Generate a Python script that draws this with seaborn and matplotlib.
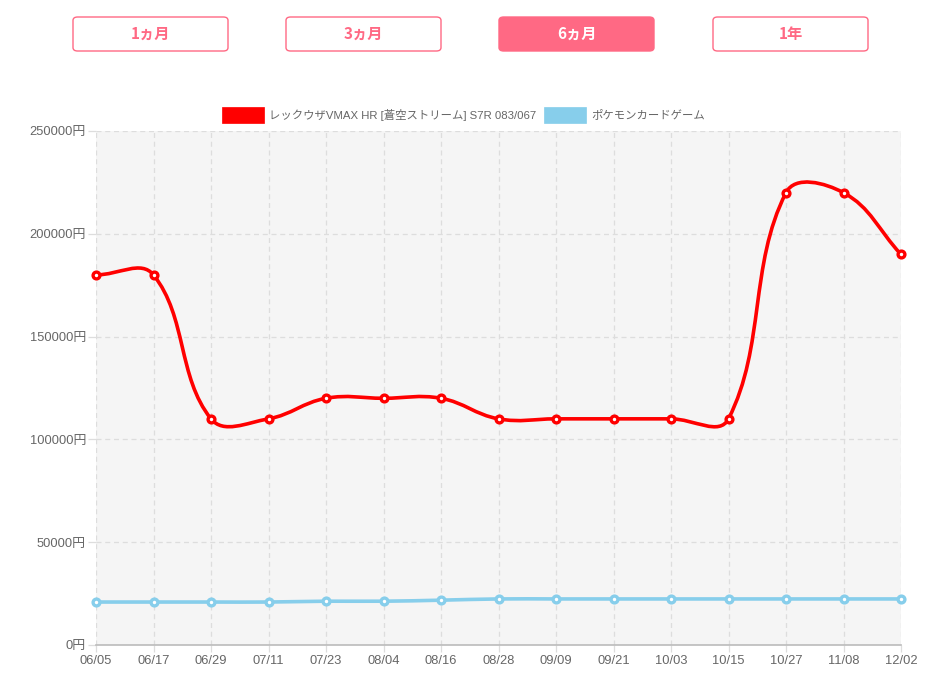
import numpy as np
import pandas as pd
import matplotlib
matplotlib.use("Agg")
import matplotlib.pyplot as plt
import seaborn as sns
from matplotlib.path import Path
from matplotlib.patches import PathPatch, FancyBboxPatch, Rectangle

# ---------------- data ----------------
dates = ["06/05", "06/17", "06/29", "07/11", "07/23", "08/04", "08/16", "08/28",
         "09/09", "09/21", "10/03", "10/15", "10/27", "11/08", "12/02"]
card_prices = [180000, 180000, 110000, 110000, 120000, 120000, 120000, 110000,
               110000, 110000, 110000, 110000, 220000, 220000, 190000]
game_prices = [20900, 20900, 20900, 20900, 21300, 21300, 21800, 22400,
               22400, 22400, 22400, 22400, 22400, 22400, 22400]
series_labels = ["レックウザVMAX HR [蒼空ストリーム] S7R 083/067", "ポケモンカードゲーム"]
series_colors = ["#ff0000", "#87ceeb"]
y_ticks = [0, 50000, 100000, 150000, 200000, 250000]
y_tick_labels = [f"{v}円" for v in y_ticks]
buttons = ["1ヵ月", "3ヵ月", "6ヵ月", "1年"]
active_button = "6ヵ月"

# ---------------- style ----------------
sns.set_theme(style="white")
FONT = ["Liberation Sans", "Noto Sans CJK JP", "DejaVu Sans"]
plt.rcParams["font.family"] = FONT
TXT = "#666666"
PINK = "#ff6984"

W, H = 936, 678
fig = plt.figure(figsize=(W / 100, H / 100), dpi=100)
fig.patch.set_facecolor("white")

def fx(px):
    return px / W

def fy(py):
    return 1 - py / H

ax = fig.add_axes([fx(96), fy(645), fx(901) - fx(96), fy(131) - fy(645)])
ax.set_facecolor("#f5f5f5")

pos = np.arange(len(dates))
df = pd.DataFrame({
    "pos": np.concatenate([pos, pos]),
    "value": card_prices + game_prices,
    "series": [series_labels[0]] * len(dates) + [series_labels[1]] * len(dates),
})

ax.set_xlim(pos[0], pos[-1])
ax.set_ylim(y_ticks[0], y_ticks[-1])


def chartjs_path(ax, xs, ys, tension=0.4):
    pts = ax.transData.transform(np.column_stack([xs, ys]).astype(float))
    n = len(pts)
    cps = []
    for i in range(n):
        cur = pts[i]
        prev = pts[i - 1] if i > 0 else cur
        nxt = pts[i + 1] if i < n - 1 else cur
        d01 = np.hypot(*(cur - prev))
        d12 = np.hypot(*(nxt - cur))
        tot = d01 + d12
        s01 = d01 / tot if tot else 0
        s12 = d12 / tot if tot else 0
        cps.append((cur - tension * s01 * (nxt - prev), cur + tension * s12 * (nxt - prev)))
    verts = [pts[0]]
    codes = [Path.MOVETO]
    for i in range(1, n):
        verts += [cps[i - 1][1], cps[i][0], pts[i]]
        codes += [Path.CURVE4] * 3
    verts = ax.transData.inverted().transform(np.array(verts))
    return Path(verts, codes)


for label, color, z in zip(series_labels, series_colors, [4, 3]):
    sub = df[df["series"] == label]
    path = chartjs_path(ax, sub["pos"].values, sub["value"].values)
    ax.add_patch(PathPatch(path, facecolor="none", edgecolor=color, lw=2.6,
                           zorder=z, capstyle="round", joinstyle="round"))
    sns.scatterplot(data=sub, x="pos", y="value", ax=ax, marker="o", s=24,
                    color=color, facecolors="white", edgecolors=color,
                    linewidth=2.4, zorder=z + 2, clip_on=False, legend=False)

ax.set_xlim(pos[0], pos[-1])
ax.set_ylim(y_ticks[0], y_ticks[-1])
ax.set_xticks(pos)
ax.set_xticklabels(dates)
ax.set_yticks(y_ticks)
ax.set_yticklabels(y_tick_labels)
ax.set_xlabel("")
ax.set_ylabel("")

ax.grid(True, color="#dddddd", linestyle=(0, (4, 3)), linewidth=0.9, zorder=1)
ax.set_axisbelow(True)
for s in ["top", "right", "left"]:
    ax.spines[s].set_visible(False)
ax.spines["bottom"].set_color("#bbbbbb")
ax.spines["bottom"].set_linewidth(1.2)
ax.tick_params(axis="y", length=6, width=0.9, color="#dddddd", pad=1.2,
               labelsize=9.3, labelcolor=TXT, left=True)
ax.tick_params(axis="x", length=5, width=0.9, color="#dddddd", pad=2.5,
               labelsize=9.3, labelcolor=TXT, bottom=True)

# ---------------- legend ----------------
renderer = fig.canvas.get_renderer()
x_cursor = 222
for label, color in zip(series_labels, series_colors):
    fig.patches.append(Rectangle((fx(x_cursor), fy(122.5)), fx(42), 15 / H,
                                 transform=fig.transFigure, facecolor=color,
                                 edgecolor=color, lw=0.5))
    t = fig.text(fx(x_cursor + 47), fy(115), label, fontsize=8.2, color=TXT,
                 ha="left", va="center", family=FONT)
    bb = t.get_window_extent(renderer)
    x_cursor = bb.x1 + 8

# ---------------- period buttons ----------------
btn_left = [73, 286, 499, 713]
btn_w = 155
for b, xl in zip(buttons, btn_left):
    active = b == active_button
    fig.patches.append(FancyBboxPatch((fx(xl), fy(51)), fx(btn_w), 34 / H,
                                      boxstyle="round,pad=0,rounding_size=0.005",
                                      transform=fig.transFigure,
                                      facecolor=PINK if active else "white",
                                      edgecolor=PINK, lw=1.0))
    fig.text(fx(xl + btn_w / 2), fy(34), b, fontsize=11, fontweight="bold",
             color="white" if active else PINK, ha="center", va="center",
             family=["Noto Sans CJK JP", "DejaVu Sans"])

fig.savefig("out.png", dpi=100, facecolor="white")
